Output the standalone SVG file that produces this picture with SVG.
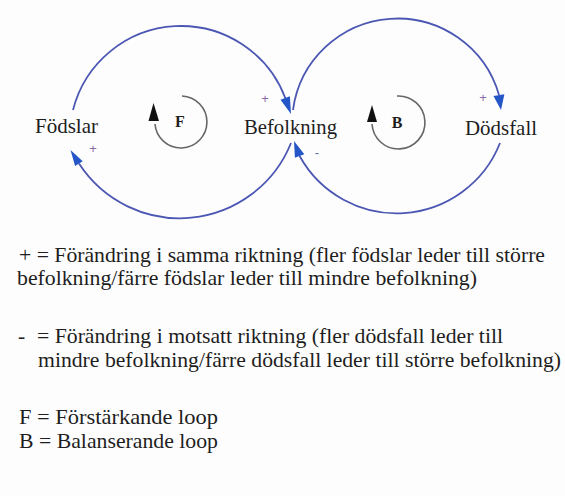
<svg xmlns="http://www.w3.org/2000/svg" width="565" height="496" viewBox="0 0 565 496">
<style>
text{font-family:"Liberation Serif","Times New Roman",serif;fill:#1e1e1e}
.lbl{font-size:21px;text-anchor:middle}
.leg{font-size:21.5px}
.lp{font-size:16px;font-weight:bold;text-anchor:middle}
.arc{fill:none;stroke:#4b57b3;stroke-width:1.8}
.ah{fill:#2456c8}
.sg{font-family:"Liberation Sans",Arial,sans-serif;font-size:13px;fill:#8a6aa8;text-anchor:middle}
.la{fill:none;stroke:#666;stroke-width:1.6}
.lh{fill:#111}
</style>
<rect width="565" height="496" fill="#fdfdfd"/>
<g id="connectors">
<path class="arc" d="M73 110 A111.5 111.5 0 0 1 285.5 98.5"/>
<polygon class="ah" points="291,114 289.9,96.3 280.5,99.7"/>
<path class="arc" d="M291 143 A120 120 0 0 1 79 163.6"/>
<polygon class="ah" points="70.5,150 82.7,161.2 75.1,166"/>
<path class="arc" d="M293 110 A105.5 105.5 0 0 1 499 95"/>
<polygon class="ah" points="501,110 504.4,94.3 493.5,95.9"/>
<path class="arc" d="M500 143 A111 111 0 0 1 299.6 156"/>
<polygon class="ah" points="294,141 304.3,154.3 294.9,157.8"/>
<text class="sg" x="265" y="103">+</text>
<text class="sg" x="93" y="153">+</text>
<text class="sg" x="483" y="102">+</text>
<text class="sg" x="317" y="157" style="fill:#6070b0">-</text>
</g>
<g id="n-fodslar"><text class="lbl" x="66.5" y="133" textLength="63" lengthAdjust="spacingAndGlyphs">Födslar</text></g>
<g id="n-befolkning"><text class="lbl" x="290.5" y="134" textLength="93" lengthAdjust="spacingAndGlyphs">Befolkning</text></g>
<g id="n-dodsfall"><text class="lbl" x="501" y="135" textLength="72" lengthAdjust="spacingAndGlyphs">Dödsfall</text></g>
<g id="loop-F">
<path class="la" d="M182 96 A26 26 0 1 1 155 124"/>
<polygon class="lh" points="153.5,103 148.5,121 159,121"/>
<text class="lp" x="180" y="127">F</text>
</g>
<g id="loop-B">
<path class="la" d="M397 96 A26.5 26.5 0 1 1 372 124"/>
<polygon class="lh" points="372,105 367,122 377,122"/>
<text class="lp" x="397" y="128">B</text>
</g>
<g id="legend">
<text class="leg" x="19" y="262" textLength="526" lengthAdjust="spacingAndGlyphs">+ = Förändring i samma riktning (fler födslar leder till större</text>
<text class="leg" x="17" y="285" textLength="460" lengthAdjust="spacingAndGlyphs">befolkning/färre födslar leder till mindre befolkning)</text>
<text class="leg" x="18" y="343">-</text>
<text class="leg" x="37" y="343" textLength="466" lengthAdjust="spacingAndGlyphs">= Förändring i motsatt riktning (fler dödsfall leder till</text>
<text class="leg" x="38" y="367" textLength="523" lengthAdjust="spacingAndGlyphs">mindre befolkning/färre dödsfall leder till större befolkning)</text>
<text class="leg" x="19" y="424" textLength="199" lengthAdjust="spacingAndGlyphs">F = Förstärkande loop</text>
<text class="leg" x="19" y="448" textLength="199" lengthAdjust="spacingAndGlyphs">B = Balanserande loop</text>
</g>
</svg>
